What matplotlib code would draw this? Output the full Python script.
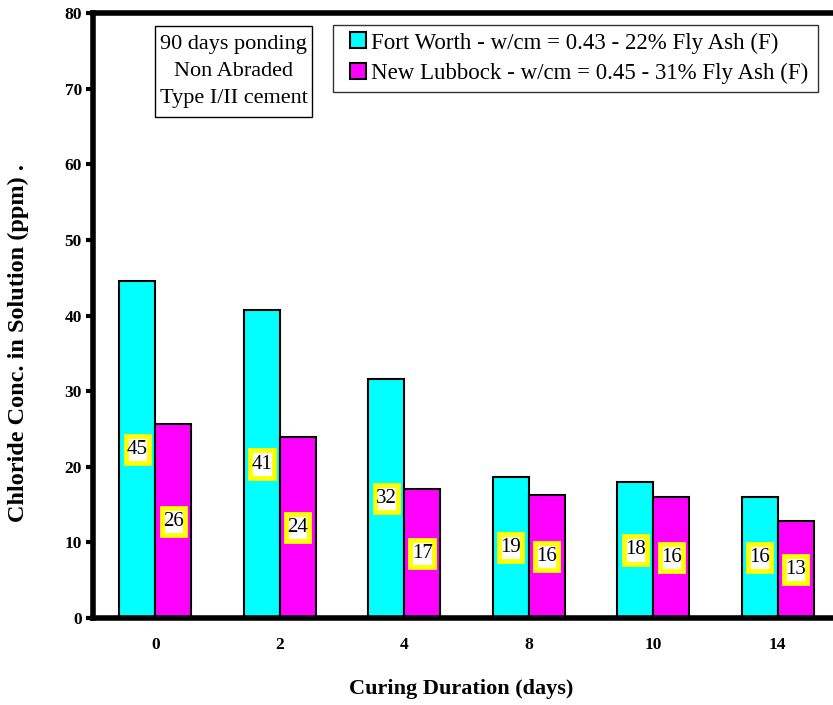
import matplotlib
matplotlib.use("Agg")
import matplotlib.pyplot as plt
import numpy as np
from matplotlib.lines import Line2D
from matplotlib.path import Path

plt.rcParams['font.family'] = ['Liberation Serif', 'DejaVu Serif']

categories = ["0", "2", "4", "8", "10", "14"]
fort_worth = [44.6, 40.7, 31.6, 18.6, 18.0, 16.0]
new_lubbock = [25.6, 24.0, 17.0, 16.2, 16.0, 12.8]
series_names = ["Fort Worth - w/cm = 0.43 - 22% Fly Ash (F)",
                "New Lubbock - w/cm = 0.45 - 31% Fly Ash (F)"]
colors = ["#00FFFF", "#FF00FF"]
yticks = [0, 10, 20, 30, 40, 50, 60, 70, 80]
note_text = "90 days ponding\nNon Abraded\nType I/II cement"

W, H = 833, 705
fig = plt.figure(figsize=(W / 100, H / 100), dpi=100)
ax = fig.add_axes([93 / W, 1 - 618 / H, (840 - 93) / W, (618 - 13) / H])


def make_box(fx, fy):
    def box(x0, y0, width, height, mutation_size):
        px = fx * mutation_size
        py = fy * mutation_size
        verts = [(x0 - px, y0 - py), (x0 + width + px, y0 - py),
                 (x0 + width + px, y0 + height + py), (x0 - px, y0 + height + py),
                 (x0 - px, y0 - py)]
        return Path(verts, closed=True)
    return box


x = np.arange(len(categories))
bw = 0.288
for i, (vals, c) in enumerate(zip([fort_worth, new_lubbock], colors)):
    xs = x + (i - 0.5) * bw
    ax.bar(xs, vals, width=bw, color=c, edgecolor='black', linewidth=1.5, zorder=2)
    for xi, v in zip(xs, vals):
        ax.text(xi, v / 2, f"{v:.0f}", ha='center', va='center', fontsize=15,
                zorder=4,
                bbox=dict(boxstyle=make_box(0.06, 0.2), facecolor='white',
                          edgecolor='#FFFF00', linewidth=3.5))

ax.set_xlim(-0.5, 5.5)
ax.set_ylim(0, 80)
ax.set_xticks(x)
ax.set_xticklabels(categories, fontweight='bold', fontsize=12.5)
ax.set_yticks(yticks)
ax.set_yticklabels([str(t) for t in yticks], fontweight='bold', fontsize=12.5)
ax.tick_params(axis='x', length=0, pad=14)
ax.tick_params(axis='y', length=5, width=3, pad=3)

for s in ['left', 'top', 'bottom']:
    ax.spines[s].set_linewidth(4)
ax.spines['right'].set_visible(False)

ax.set_xlabel("Curing Duration (days)", fontweight='bold', fontsize=16)
ax.xaxis.set_label_coords(461 / W, 1 - 679 / H, transform=fig.transFigure)
ax.set_ylabel("Chloride Conc. in Solution (ppm) .", fontweight='bold', fontsize=17.5)
ax.yaxis.set_label_coords(29 / W, 1 - 343 / H, transform=fig.transFigure)

handles = [Line2D([], [], linestyle='none', marker='s', markersize=11,
                  markerfacecolor=c, markeredgecolor='black', markeredgewidth=1.5)
           for c in colors]
leg = ax.legend(handles, series_names, loc='upper left',
                bbox_to_anchor=(333 / W, 1 - 25 / H - 0.01, (818 - 333) / W, 0.01),
                bbox_transform=fig.transFigure, mode='expand',
                fontsize=16.5, frameon=True, fancybox=False, edgecolor='black',
                handlelength=1.55, handletextpad=-0.2,
                borderpad=0.32, labelspacing=0.42, borderaxespad=0)
leg.get_frame().set_linewidth(1)

fig.text(233.5 / W, 1 - 71.5 / H, note_text, ha='center', va='center', fontsize=16,
         linespacing=1.58,
         bbox=dict(boxstyle=make_box(0.22, 0.42), facecolor='white',
                   edgecolor='black', linewidth=1))

fig.savefig("out.png", dpi=100)
